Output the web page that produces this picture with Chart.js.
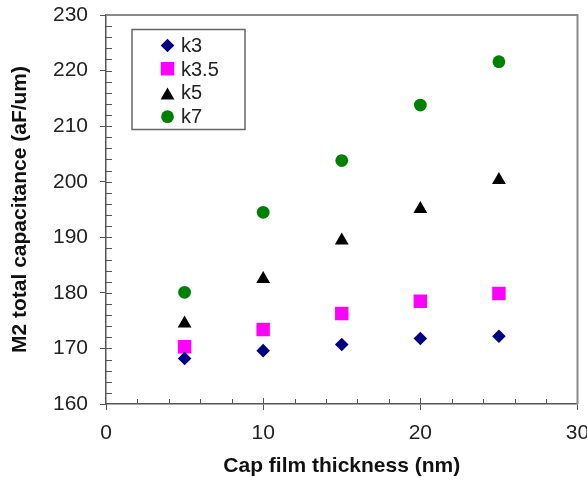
<!DOCTYPE html>
<html>
<head>
<meta charset="utf-8">
<script src="https://cdn.jsdelivr.net/npm/chart.js@4.4.1/dist/chart.umd.min.js"></script>
<style>
  html, body { margin: 0; padding: 0; background: #fff; }
</style>
</head>
<body>
<canvas id="myChart" width="587" height="481"></canvas>
<script>
// cap film thickness (nm)
const thickness = [5, 10, 15, 20, 25];
// M2 total capacitance (aF/um) per dielectric constant
const k3 = [168.2, 169.6, 170.7, 171.8, 172.2];
const k35 = [170.3, 173.4, 176.3, 178.5, 179.9];
const k5 = [174.5, 182.5, 189.4, 195.1, 200.3];
const k7 = [180.1, 194.5, 203.8, 213.8, 221.6];
const seriesNames = ['k3', 'k3.5', 'k5', 'k7'];
const xTicks = [0, 10, 20, 30];
const yTicks = [160, 170, 180, 190, 200, 210, 220, 230];

const FONT = "'Liberation Sans', Arial, sans-serif";
const AXIS_COLOR = '#555';

const toPoints = (ys) => ys.map((y, i) => ({ x: thickness[i], y: y }));

const styles = [
    { color: '#000080', pointStyle: 'rectRot', radius: 6.8 },
    { color: '#ff00ff', pointStyle: 'rect', radius: 9.5 },
    { color: '#000000', pointStyle: 'triangle', radius: 8 },
    { color: '#008000', pointStyle: 'circle', radius: 6.4 }
];

const datasets = [k3, k35, k5, k7].map((vals, i) => ({
    label: seriesNames[i],
    data: toPoints(vals),
    showLine: false,
    pointStyle: styles[i].pointStyle,
    pointRadius: styles[i].radius,
    pointHoverRadius: styles[i].radius,
    backgroundColor: styles[i].color,
    borderColor: styles[i].color,
    borderWidth: 0
}));

// minor ticks inside the plot, frame on top/right, boxed legend
const framePlugin = {
    id: 'frame',
    afterDraw(chart) {
        const { ctx, chartArea: a, scales: { x, y } } = chart;
        ctx.save();
        // top and right frame
        ctx.strokeStyle = '#8a8a8a';
        ctx.lineWidth = 2;
        ctx.beginPath();
        ctx.moveTo(a.left, a.top);
        ctx.lineTo(a.right, a.top);
        ctx.lineTo(a.right, a.bottom);
        ctx.stroke();

        // inward ticks
        ctx.strokeStyle = AXIS_COLOR;
        ctx.lineWidth = 1;
        ctx.beginPath();
        for (let v = x.min + 2; v < x.max; v += 2) {
            const px = Math.round(x.getPixelForValue(v)) + 0.5;
            ctx.moveTo(px, a.bottom);
            ctx.lineTo(px, a.bottom - (v % 10 === 0 ? 6 : 5));
        }
        for (let v = y.min + 2; v < y.max; v += 2) {
            const py = Math.round(y.getPixelForValue(v)) + 0.5;
            ctx.moveTo(a.left, py);
            ctx.lineTo(a.left + 6, py);
        }
        ctx.stroke();

        // legend box
        ctx.strokeStyle = '#666';
        ctx.lineWidth = 1.5;
        ctx.strokeRect(132, 29.5, 113, 100);
        ctx.font = '20px ' + FONT;
        ctx.textBaseline = 'middle';
        const rows = [45.5, 68.7, 95.5, 116.7];
        chart.data.datasets.forEach((ds, i) => {
            const cy = rows[i];
            ctx.fillStyle = ds.backgroundColor;
            ctx.strokeStyle = ds.borderColor;
            Chart.helpers.drawPoint(ctx, {
                pointStyle: ds.pointStyle,
                radius: ds.pointRadius,
                borderWidth: 0,
                rotation: 0
            }, 167.5, cy);
            ctx.fillStyle = '#222';
            ctx.fillText(ds.label, 181, 45.5 + i * 23.7 + 1);
        });
        ctx.restore();
    }
};

const ctx = document.getElementById('myChart');
const myChart = new Chart(ctx, {
    type: 'scatter',
    data: { datasets: datasets },
    options: {
        responsive: false,
        animation: false,
        layout: { padding: { top: 15, right: 9, left: 0, bottom: 0 } },
        plugins: {
            legend: { display: false },
            tooltip: { enabled: false }
        },
        scales: {
            x: {
                type: 'linear',
                min: xTicks[0],
                max: xTicks[xTicks.length - 1],
                afterBuildTicks: (s) => { s.ticks = xTicks.map((v) => ({ value: v })); },
                afterFit: (s) => { s.height = 77; s.paddingLeft = 0; s.paddingRight = 0; },
                grid: { drawOnChartArea: false, tickLength: 6, color: AXIS_COLOR },
                border: { color: AXIS_COLOR, width: 1.5 },
                ticks: { padding: 11, color: '#222', font: { family: FONT, size: 21 } },
                title: {
                    display: true,
                    text: 'Cap film thickness (nm)',
                    color: '#111',
                    padding: { top: 0, bottom: 2.5 },
                    font: { family: FONT, size: 21, weight: 'bold' }
                }
            },
            y: {
                type: 'linear',
                min: yTicks[0],
                max: yTicks[yTicks.length - 1],
                afterBuildTicks: (s) => { s.ticks = yTicks.map((v) => ({ value: v })); },
                afterFit: (s) => { s.width = 106; s.paddingTop = 0; s.paddingBottom = 0; },
                grid: { drawOnChartArea: false, tickLength: 6, color: AXIS_COLOR },
                border: { color: AXIS_COLOR, width: 1.5 },
                ticks: { padding: 12, color: '#222', font: { family: FONT, size: 21 } },
                title: {
                    display: true,
                    text: 'M2 total capacitance (aF/um)',
                    color: '#111',
                    padding: { top: 8, bottom: 0 },
                    font: { family: FONT, size: 21, weight: 'bold' }
                }
            }
        }
    },
    plugins: [framePlugin]
});
</script>
</body>
</html>
